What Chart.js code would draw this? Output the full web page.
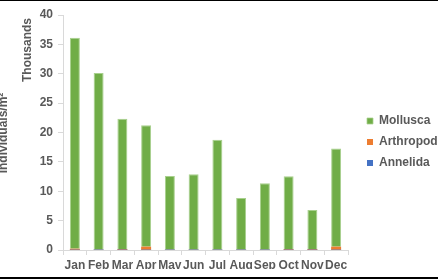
<!DOCTYPE html>
<html>
<head>
<meta charset="utf-8">
<script src="https://cdn.jsdelivr.net/npm/chart.js@4/dist/chart.umd.min.js"></script>
<style>
html,body{margin:0;padding:0;background:#fff;}
#wrap{position:relative;width:438px;height:280px;overflow:hidden;}
#topline{position:absolute;left:0;top:0;width:438px;height:1px;background:#000;}
#botline{position:absolute;left:0;top:277px;width:438px;height:2px;background:#000;}
canvas{position:absolute;left:0;top:0;}
</style>
</head>
<body>
<div id="wrap">
<canvas id="c" width="438" height="280"></canvas>
<div id="topline"></div>
<div id="botline"></div>
</div>
<script>
const months = ['Jan','Feb','Mar','Apr','May','Jun','Jul','Aug','Sep','Oct','Nov','Dec'];
// values in thousands of individuals/m²
const mollusca  = [35.9, 30.05, 22.2, 20.65, 12.55, 12.85, 18.7, 8.8, 11.3, 12.4, 6.65, 16.7];
const arthropod = [0.2, 0.05, 0.15, 0.55, 0.05, 0.05, 0.05, 0.05, 0.05, 0.15, 0.15, 0.55];
const annelida  = [0.02, 0.01, 0.01, 0.02, 0.01, 0.01, 0.01, 0.01, 0.01, 0.01, 0.01, 0.02];
const yTicks = [0, 5, 10, 15, 20, 25, 30, 35, 40];

const textColor = '#595959';
const axisColor = '#d9d9d9';
const font = {family: '"Liberation Sans", Arial, sans-serif', size: 12, weight: 'bold'};

const titlesPlugin = {
  id: 'titles',
  afterDraw(chart) {
    const ctx = chart.ctx;
    ctx.save();
    ctx.fillStyle = textColor;
    ctx.font = 'bold 12px "Liberation Sans", Arial, sans-serif';
    ctx.textAlign = 'center';
    ctx.textBaseline = 'middle';
    ctx.translate(4, 133);
    ctx.rotate(-Math.PI / 2);
    ctx.fillText('Individuals/m²', 0, 0);
    ctx.restore();
    ctx.save();
    ctx.fillStyle = textColor;
    ctx.font = 'bold 12px "Liberation Sans", Arial, sans-serif';
    ctx.textAlign = 'center';
    ctx.textBaseline = 'middle';
    ctx.translate(28, 50);
    ctx.rotate(-Math.PI / 2);
    ctx.fillText('Thousands', 0, 0);
    ctx.restore();
  }
};

new Chart(document.getElementById('c'), {
  type: 'bar',
  data: {
    labels: months,
    datasets: [
      {label: 'Annelida', data: annelida, backgroundColor: '#4472C4', borderWidth: 0},
      {label: 'Arthropod', data: arthropod, backgroundColor: '#ED7D31', borderWidth: 0},
      {label: 'Mollusca', data: mollusca, backgroundColor: '#70AD47', borderColor: '#a8d08d', borderWidth: {left:1,right:1,top:1,bottom:0}}
    ]
  },
  options: {
    responsive: false,
    animation: false,
    devicePixelRatio: 1,
    layout: {padding: {top: 15, bottom: 11, left: 0, right: 0}},
    datasets: {bar: {barPercentage: 0.42, categoryPercentage: 1.0}},
    plugins: {
      legend: {
        position: 'right',
        reverse: true,
        maxWidth: 80,
        labels: {
          boxWidth: 6, boxHeight: 6, padding: 9,
          color: textColor, font: font
        }
      },
      tooltip: {enabled: false},
      title: {display: false}
    },
    scales: {
      x: {
        stacked: true,
        grid: {display: true, drawOnChartArea: false, offset: true, tickLength: 5, color: axisColor},
        border: {color: axisColor},
        ticks: {color: textColor, font: font, padding: 3, maxRotation: 0, autoSkip: false},
        afterFit(s) { s.height = 19; }
      },
      y: {
        stacked: true,
        min: 0, max: 40,
        afterBuildTicks(s) { s.ticks = yTicks.map(v => ({value: v})); },
        grid: {display: true, drawOnChartArea: false, tickLength: 5, color: axisColor},
        border: {color: axisColor},
        ticks: {color: textColor, font: font, padding: 5},
        afterFit(s) { s.width = 63; }
      },
      yR: {
        type: 'linear',
        position: 'right',
        display: true,
        grid: {display: false},
        border: {display: false},
        ticks: {display: false},
        afterFit(s) { s.width = 10; }
      }
    }
  },
  plugins: [titlesPlugin]
});
</script>
</body>
</html>
